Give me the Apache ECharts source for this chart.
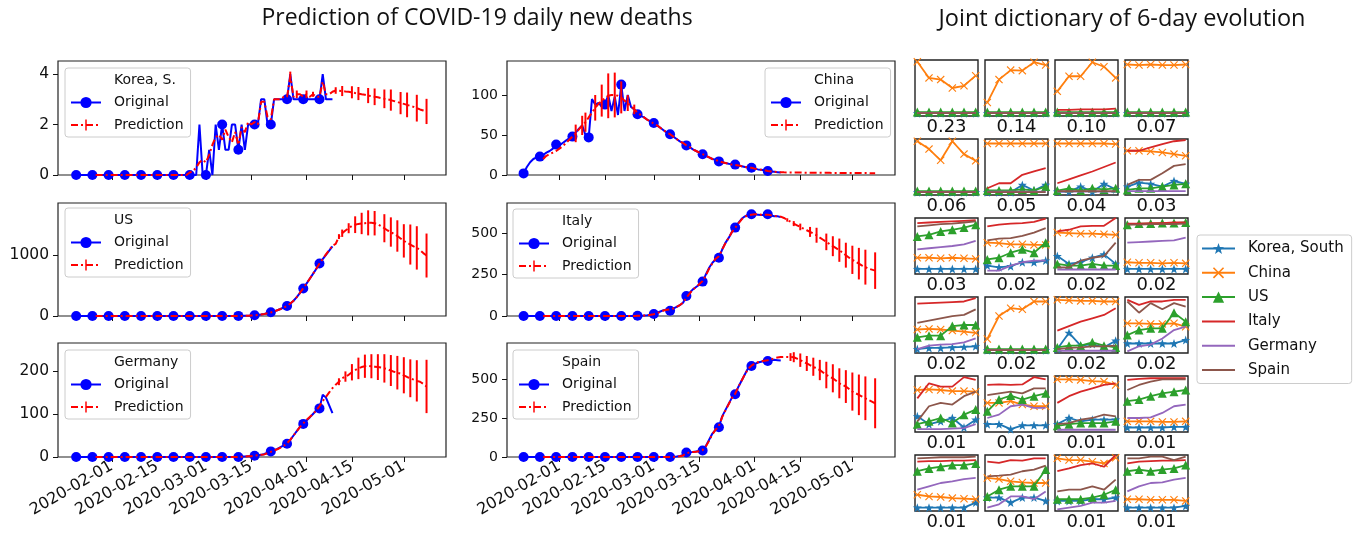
<!DOCTYPE html>
<html><head><meta charset="utf-8">
<script src="https://cdn.jsdelivr.net/npm/echarts@6.0.0/dist/echarts.min.js"></script>
<style>html,body{margin:0;padding:0;background:#fff}#c{width:1372px;height:533px}</style>
</head><body><div id="c"></div>
<script>
// ---------------- data ----------------
const tickDates = ['2020-02-01','2020-02-15','2020-03-01','2020-03-15','2020-04-01','2020-04-15','2020-05-01'];
const origStart = '2020-01-21';
const predStart = '2020-01-27';

const koreaTicks = [0, 2, 4];
const chinaTicks = [0, 50, 100];
const usTicks = [0, 1000];
const italyTicks = [0, 250, 500];
const germanyTicks = [0, 100, 200];
const spainTicks = [0, 250, 500];

const koreaOrig = [
0,0,0,0,0,0,0,0,0,0, 0,0,0,0,0,0,0,0,0,0, 0,0,0,0,0,0,0,0,0,0, 0,0,0,0,0,0,0,
0,2,0,0,1,0,2,1,2,1, 1,2,2,1,2,1,2,2,2,2, 3,3,2,2,3,3,3,3,3,4, 3,3,3,3,3,3,3,3,3,4, 3,3,3];
const koreaPred = [
0,0,0,0,0,0,0,0,0,0, 0,0,0,0,0,0,0,0,0,0, 0,0,0,0,0,0,0,0,0,
0.1,0.15,0.3,0.5,0.6,0.5,0.8,1.2,1.5,1.6, 1.4,1.8,1.5,1.3,1.7,1.2,1.9,1.7,2.1,2.0,
2.1,2.0,2.9,2.9,2.3,2.2,3.0,3.0,3.0,3.1, 3.1,3.9,3.1,3.2,3.2,3.1,3.2,3.1,3.2,3.1, 3.1,3.7,3.2,3.2,3.3,
3.35,3.34,3.33,3.31,3.3,3.28,3.25,3.23,3.2,3.18, 3.15,3.13,3.1,3.08,3.05,3.02,3.0,2.97,2.93,2.9,
2.85,2.82,2.78,2.74,2.7,2.65,2.6,2.56,2.52];
const koreaErr = [['03-27',0.2],['03-29',0.15],['04-01',0.15],['04-03',0.1],['04-10',0.13],['04-12',0.2],['04-15',0.24],['04-17',0.26],['04-20',0.3],['04-22',0.33],['04-25',0.37],['04-27',0.42],['04-30',0.44],['05-02',0.49],['05-05',0.53],['05-08',0.5]];

const chinaOrig = [
2,10,16,20,22,23,25,28,30,33, 38,37,40,43,46,48,53,58,62,50, 47,95,88,90,86,88,100,80,98,75,
113,80,100,85,82,76,74,72,69,67, 65,62,59,56,53,51,48,45,42,40, 37,35,32,30,28,26,24,22,20,19,
17,16,15,14,13.5,13,12,11,10,9.5, 9,8,7,6.5,6,5,4.5,4,3.5,3];
const chinaPred = [
20,24,26,28,30,33,36,40,44,48, 52,57,62,66,72,78,84,89,93,96, 99,100,100,99,97,93,90,86,82,78, 75,
72,69,67,64,62,59,56,53,51,48, 45,42,40,37,35,32,30,28,26,24, 22,20,19,17,16,15,14,13,12.5,12,
11,10,9.5,9,8,7,6.5,6,5,4.5, 4,3.5,3.5,
3.3,3.2,3.2,3.1,3.1,3.0,3.0,2.9,2.9,2.8, 2.8,2.8,2.7,2.7,2.7,2.6,2.6,2.6,2.5,2.5, 2.5,2.5,2.4,2.4,2.4,2.4,2.3,2.3,2.3];
const chinaErr = [['02-06',11],['02-08',12],['02-09',12],['02-12',16],['02-14',20],['02-16',28],['02-18',28],['02-20',20],['02-22',10],['02-24',6]];

const usOrig = [
0,0,0,0,0,0,0,0,0,0, 0,0,0,0,0,0,0,0,0,0, 0,0,0,0,0,0,0,0,0,0, 0,0,0,0,0,0,0,0,0,0, 0,0,0,0,0,0,0,0,0,0,
2,3,4,6,8,12,18,25,33,45, 60,75,95,115,140,165,200,250,310,380, 450,530,610,690,770,860,930,1000,1070,1140];
const usPred = [
0,0,0,0,0,0,0,0,0,0, 0,0,0,0,0,0,0,0,0,0, 0,0,0,0,0,0,0,0,0,0, 0,0,0,0,0,0,0,0,0,0, 0,0,0,0,
1,2,4,5,8,11,16,24,32,44, 58,74,94,115,138,165,205,250,310,380, 455,530,610,690,775,860,935,1010,1080,1150,
1180,1300,1355,1400,1437,1475,1495,1508,1515,1519, 1525,1525,1519,1500,1470,1437,1400,1375,1340,1310,
1270,1230,1200,1170,1140,1115,1080,1030,990];
const usErr = [['04-11',40],['04-12',60],['04-14',82],['04-16',137],['04-18',175],['04-20',205],['04-22',200],['04-25',230],['04-27',240],['04-29',257],['05-01',273],['05-03',328],['05-05',355],['05-08',360]];

const italyOrig = [
0,0,0,0,0,0,0,0,0,0, 0,0,0,0,0,0,0,0,0,0, 0,0,0,0,0,0,0,0,0,0, 0,0,0,0,0,
1,2,3,5,8,12,18,27,35,40, 32,45,55,65,80,120,140,160,175,190, 207,250,290,320,340,351,400,440,470,505,
532,560,585,600,610,612,612,610,608,608, 612,605,600,600,595];
const italyPred = [
0,0,0,0,0,0,0,0,0,0, 0,0,0,0,0,0,0,0,0,0, 0,0,0,0,0,0,0,0,0,
1,2,3,4,7,11,17,25,33,38, 40,45,55,66,80,110,135,158,175,192, 210,245,285,318,345,360,400,438,470,505,
530,558,582,598,606,610,612,612,610,610, 610,606,603,600,598,
590,578,567,556,546,536,526,516,506,496, 486,472,459,446,433,420,408,396,381,366,
351,338,326,315,303,294,285,279,273];
const italyErr = [['04-11',10],['04-13',15],['04-15',20],['04-18',30],['04-20',45],['04-23',50],['04-25',60],['04-27',70],['04-29',75],['05-01',85],['05-03',95],['05-05',105],['05-08',110]];

const germanyOrig = [
0,0,0,0,0,0,0,0,0,0, 0,0,0,0,0,0,0,0,0,0, 0,0,0,0,0,0,0,0,0,0, 0,0,0,0,0,0,0,0,0,0, 0,0,0,0,0,0,0,0,0,0,
0,1,1,2,2,3,4,5,7,10, 13,16,19,23,27,31,40,50,60,70, 77,85,92,100,108,113,145,138,120,102];
const germanyPred = [
0,0,0,0,0,0,0,0,0,0, 0,0,0,0,0,0,0,0,0,0, 0,0,0,0,0,0,0,0,0,0, 0,0,0,0,0,0,0,0,0,0, 0,0,0,0,
0,0.5,1,1.5,2,3,4,5,6,9, 12,15,18,22,26,32,40,50,60,70, 78,86,93,100,108,118,130,140,150,160,
168,175,183,187,191,197,202,206,209,211, 212,211,210,209,208,206,204,201,198,196,
194,190,186,183,180,177,175,170,164];
const germanyErr = [['04-11',8],['04-13',12],['04-15',19],['04-17',25],['04-19',27],['04-21',28],['04-23',30],['04-25',33],['04-27',36],['04-29',39],['05-01',42],['05-03',44],['05-05',48],['05-08',62]];

const spainOrig = [
0,0,0,0,0,0,0,0,0,0, 0,0,0,0,0,0,0,0,0,0, 0,0,0,0,0,0,0,0,0,0, 0,0,0,0,0,0,0,0,0,0, 0,0,0,0,0,0,
1,3,6,12,29,30,32,35,38,42, 70,110,150,175,191,260,300,340,380,402, 450,490,530,570,583,595,605,610,615,615,
620,622,620,618];
const spainPred = [
0,0,0,0,0,0,0,0,0,0, 0,0,0,0,0,0,0,0,0,0, 0,0,0,0,0,0,0,0,0,0, 0,0,0,0,0,0,0,0,0,0,
0.5,2,5,10,22,30,32,34,37,45, 68,105,145,175,200,255,298,338,378,405, 450,490,530,565,585,598,607,612,617,620,
625,632,637,640,
641,641,640,639,630,620,610,599,588,578, 567,557,541,525,515,504,488,472,462,451,
435,419,408,398,387,376,365,355,344];
const spainErr = [['04-12',25],['04-13',32],['04-15',43],['04-17',48],['04-19',58],['04-21',65],['04-23',85],['04-25',90],['04-27',96],['04-29',105],['05-01',122],['05-03',130],['05-05',140],['05-08',160]];

// Joint dictionary: 24 atoms (row-major, 6 rows x 4 cols), 6 days each, normalised height
const atomWeights = ['0.23','0.14','0.10','0.07','0.06','0.05','0.04','0.03','0.03','0.02','0.02','0.02',
                     '0.02','0.02','0.02','0.02','0.01','0.01','0.01','0.01','0.01','0.01','0.01','0.01'];
const atomCountries = ['Korea, South','China','US','Italy','Germany','Spain'];
const atomKorea = [
[0.05,0.05,0.05,0.05,0.05,0.05],[0.05,0.05,0.05,0.05,0.05,0.05],[0.05,0.05,0.05,0.05,0.05,0.05],[0.05,0.05,0.05,0.05,0.05,0.05],
[0.05,0.05,0.05,0.05,0.05,0.05],[0.05,0.05,0.05,0.18,0.08,0.18],[0.06,0.06,0.15,0.06,0.2,0.1],[0.15,0.22,0.2,0.15,0.25,0.2],
[0.09,0.09,0.09,0.09,0.09,0.09],[0.15,0.12,0.14,0.21,0.21,0.24],[0.32,0.18,0.21,0.29,0.35,0.18],[0.09,0.09,0.09,0.09,0.09,0.09],
[0.07,0.09,0.09,0.1,0.11,0.12],[0.05,0.05,0.05,0.05,0.05,0.05],[0.07,0.36,0.13,0.16,0.1,0.22],[0.17,0.17,0.17,0.17,0.17,0.23],
[0.28,0.14,0.19,0.25,0.08,0.22],[0.14,0.14,0.05,0.12,0.12,0.12],[0.14,0.25,0.19,0.22,0.22,0.22],[0.08,0.08,0.08,0.08,0.09,0.09],
[0.06,0.06,0.06,0.06,0.06,0.15],[0.24,0.24,0.15,0.24,0.24,0.18],[0.18,0.18,0.18,0.21,0.21,0.24],[0.06,0.06,0.06,0.06,0.06,0.09]];
const atomChina = [
[0.97,0.68,0.65,0.5,0.54,0.72],[0.24,0.65,0.82,0.81,0.96,0.91],[0.44,0.71,0.71,0.96,0.88,0.68],[0.92,0.91,0.92,0.91,0.91,0.92],
[0.96,0.82,0.62,0.96,0.73,0.61],[0.92,0.92,0.92,0.92,0.92,0.92],[0.92,0.92,0.92,0.92,0.92,0.91],[0.79,0.79,0.78,0.76,0.73,0.7],
[0.29,0.29,0.28,0.29,0.28,0.27],[0.56,0.55,0.53,0.53,0.52,0.52],[0.74,0.73,0.72,0.72,0.71,0.7],[0.21,0.2,0.2,0.19,0.2,0.19],
[0.42,0.43,0.42,0.4,0.38,0.36],[0.25,0.66,0.8,0.78,0.92,0.92],[0.95,0.94,0.93,0.93,0.92,0.92],[0.53,0.53,0.52,0.52,0.53,0.47],
[0.75,0.76,0.75,0.73,0.73,0.72],[0.52,0.52,0.55,0.49,0.46,0.46],[0.94,0.94,0.93,0.91,0.9,0.84],[0.19,0.19,0.19,0.18,0.18,0.19],
[0.29,0.26,0.25,0.23,0.22,0.21],[0.59,0.57,0.53,0.51,0.5,0.5],[0.94,0.91,0.91,0.88,0.85,0.95],[0.21,0.21,0.2,0.2,0.2,0.18]];
const atomUS = [
[0.07,0.07,0.07,0.07,0.07,0.07],[0.07,0.07,0.07,0.07,0.07,0.07],[0.07,0.07,0.07,0.07,0.07,0.07],[0.07,0.07,0.07,0.07,0.07,0.07],
[0.07,0.07,0.07,0.07,0.07,0.07],[0.08,0.08,0.08,0.1,0.08,0.15],[0.08,0.12,0.08,0.12,0.1,0.12],[0.09,0.12,0.12,0.15,0.18,0.2],
[0.67,0.7,0.76,0.79,0.83,0.88],[0.26,0.29,0.38,0.44,0.38,0.56],[0.18,0.15,0.15,0.18,0.15,0.15],[0.88,0.9,0.9,0.91,0.91,0.92],
[0.28,0.31,0.31,0.48,0.5,0.5],[0.07,0.07,0.07,0.07,0.07,0.07],[0.1,0.13,0.13,0.19,0.13,0.1],[0.32,0.41,0.44,0.44,0.72,0.56],
[0.14,0.19,0.25,0.16,0.31,0.4],[0.37,0.58,0.65,0.58,0.64,0.69],[0.11,0.14,0.16,0.16,0.16,0.19],[0.55,0.58,0.64,0.69,0.72,0.75],
[0.71,0.76,0.79,0.82,0.82,0.85],[0.26,0.38,0.44,0.44,0.44,0.74],[0.21,0.21,0.21,0.24,0.29,0.38],[0.71,0.74,0.71,0.74,0.76,0.82]];
const atomItaly = [
[0.05,0.05,0.05,0.05,0.05,0.05],[0.05,0.05,0.05,0.05,0.05,0.05],[0.11,0.11,0.12,0.12,0.12,0.13],[0.05,0.05,0.05,0.05,0.05,0.05],
[0.05,0.05,0.05,0.05,0.05,0.05],[0.12,0.21,0.21,0.36,0.42,0.48],[0.21,0.28,0.35,0.42,0.5,0.58],[0.79,0.79,0.85,0.91,0.96,0.98],
[0.91,0.92,0.93,0.94,0.95,0.96],[0.85,0.88,0.9,0.91,0.93,0.99],[0.76,0.79,0.85,0.86,0.86,1.0],[0.9,0.9,0.91,0.91,0.92,0.92],
[0.88,0.89,0.9,0.91,0.92,0.98],[0.05,0.05,0.05,0.05,0.05,0.05],[0.4,0.48,0.56,0.62,0.68,0.8],[0.95,0.86,0.92,0.92,0.95,0.95],
[0.6,0.87,0.81,0.81,0.98,0.93],[0.84,0.85,0.84,0.85,0.98,0.94],[0.52,0.64,0.72,0.78,0.84,0.87],[0.93,0.95,0.96,0.96,0.96,0.96],
[0.88,0.89,0.89,0.9,0.9,0.91],[0.88,0.86,0.91,0.9,0.94,0.94],[0.71,0.76,0.82,0.85,0.79,1.0],[0.85,0.88,0.89,0.9,0.9,0.91]];
const atomGermany = [
[0.05,0.05,0.05,0.05,0.05,0.05],[0.05,0.05,0.05,0.05,0.05,0.05],[0.05,0.05,0.05,0.05,0.05,0.05],[0.05,0.05,0.05,0.05,0.05,0.05],
[0.05,0.05,0.05,0.05,0.05,0.05],[0.06,0.06,0.06,0.06,0.06,0.06],[0.06,0.06,0.06,0.06,0.06,0.06],[0.07,0.07,0.07,0.07,0.07,0.07],
[0.44,0.46,0.48,0.5,0.53,0.59],[0.06,0.06,0.15,0.21,0.24,0.24],[0.08,0.08,0.08,0.08,0.08,0.08],[0.56,0.57,0.58,0.59,0.6,0.65],
[0.07,0.13,0.15,0.16,0.19,0.26],[0.05,0.05,0.05,0.05,0.05,0.05],[0.04,0.04,0.04,0.04,0.04,0.04],[0.03,0.12,0.15,0.26,0.41,0.47],
[0.05,0.05,0.05,0.06,0.07,0.14],[0.25,0.31,0.46,0.49,0.43,0.43],[0.04,0.04,0.04,0.04,0.04,0.04],[0.25,0.25,0.26,0.34,0.46,0.49],
[0.38,0.44,0.5,0.53,0.57,0.59],[0.06,0.12,0.26,0.26,0.21,0.35],[0.03,0.06,0.09,0.15,0.15,0.18],[0.35,0.44,0.5,0.51,0.56,0.59]];
const atomSpain = [
[0.05,0.05,0.05,0.05,0.05,0.05],[0.05,0.05,0.05,0.05,0.05,0.05],[0.05,0.05,0.05,0.05,0.05,0.05],[0.05,0.05,0.05,0.05,0.05,0.05],
[0.05,0.05,0.05,0.05,0.05,0.05],[0.05,0.05,0.05,0.05,0.05,0.05],[0.07,0.07,0.07,0.07,0.07,0.07],[0.18,0.27,0.27,0.39,0.52,0.55],
[0.85,0.87,0.89,0.9,0.92,0.94],[0.6,0.63,0.64,0.68,0.74,0.82],[0.12,0.12,0.24,0.29,0.32,0.56],[0.88,0.88,0.89,0.89,0.89,0.9],
[0.54,0.58,0.62,0.66,0.68,0.78],[0.05,0.05,0.05,0.05,0.05,0.05],[0.07,0.09,0.1,0.12,0.12,0.13],[0.92,0.72,0.89,0.78,0.89,0.83],
[0.19,0.46,0.52,0.49,0.64,0.72],[0.66,0.69,0.72,0.69,0.78,0.78],[0.14,0.16,0.22,0.25,0.31,0.28],[0.75,0.84,0.9,0.94,0.94,0.94],
[0.94,0.95,0.96,0.96,0.96,0.97],[0.62,0.63,0.65,0.71,0.74,0.81],[0.35,0.38,0.38,0.44,0.38,0.56],[0.94,0.94,0.97,0.97,0.91,0.97]];

// ---------------- helpers ----------------
const DAY = 86400000, T0 = Date.UTC(2020, 0, 1);
const dayOf = s => Math.round((Date.parse(s + 'T00:00:00Z') - T0) / DAY);
const fmtDay = d => new Date(T0 + Math.round(d) * DAY).toISOString().slice(0, 10);
const tickDays = tickDates.map(dayOf);
const origStartDay = dayOf(origStart);
const predStartDay = dayOf(predStart);

const FONT = 'DejaVu Sans';
const INK = '#111';
const STAR = 'path://M0,-10L2.35,-3.24L9.51,-3.09L3.8,1.24L5.88,8.09L0,4L-5.88,8.09L-3.8,1.24L-9.51,-3.09L-2.35,-3.24Z';
const XMARK = 'path://M1,0L5,4L9,0L10,1L6,5L10,9L9,10L5,6L1,10L0,9L4,5L0,1Z';
const ERRBAR = 'path://M0,10L20,10L0,10Z M8.7,0L11.3,0L11.3,20L8.7,20Z';

const mainPanels = [
  {title:'Korea, S.', orig:koreaOrig, pred:koreaPred, err:koreaErr, ticks:koreaTicks, yMax:4.52, grid:[58,61,388,114], xr:[14.4,134], legend:{left:65, top:68}, yFont:15.5, bottom:false},
  {title:'China', orig:chinaOrig, pred:chinaPred, err:chinaErr, ticks:chinaTicks, yMax:142.5, grid:[507,61,388,114], xr:[14.9,134.1], legend:{left:765, top:68}, yFont:14, bottom:false},
  {title:'US', orig:usOrig, pred:usPred, err:usErr, ticks:usTicks, yMax:1850, grid:[58,203,388,113], xr:[14.4,134], legend:{left:65, top:208}, yFont:15.5, bottom:false},
  {title:'Italy', orig:italyOrig, pred:italyPred, err:italyErr, ticks:italyTicks, yMax:680, grid:[507,203,388,113], xr:[14.9,134.1], legend:{left:513, top:209}, yFont:14, bottom:false},
  {title:'Germany', orig:germanyOrig, pred:germanyPred, err:germanyErr, ticks:germanyTicks, yMax:265, grid:[58,343,388,114], xr:[14.4,134], legend:{left:65, top:350}, yFont:15.5, bottom:true},
  {title:'Spain', orig:spainOrig, pred:spainPred, err:spainErr, ticks:spainTicks, yMax:730, grid:[507,343,388,114], xr:[14.9,134.1], legend:{left:513, top:350}, yFont:14, bottom:true}
];

const atomCols = [915, 985, 1055, 1125];
const atomRows = [60, 139, 218, 297, 376, 455];
const atomSets = [atomKorea, atomChina, atomUS, atomItaly, atomGermany, atomSpain];
const atomColors = ['#1f77b4', '#ff7f0e', '#2ca02c', '#d62728', '#9467bd', '#8c564b'];
const atomSymbols = [STAR, XMARK, 'triangle', 'none', 'none', 'none'];
const atomSymbolSize = [9, 8, 9, 0, 0, 0];

// ---------------- build option ----------------
const grids = [], xAxes = [], yAxes = [], series = [], legends = [];

// small multiples first (so the right-hand legend takes their icons)
atomWeights.forEach((w, k) => {
  const r = Math.floor(k / 4), c = k % 4;
  const g = grids.length;
  grids.push({left: atomCols[c], top: atomRows[r], width: 63, height: 56, show: true,
              borderColor: '#222', borderWidth: 1.4, backgroundColor: '#fff'});
  xAxes.push({type: 'value', gridIndex: g, min: -0.2, max: 5.2,
              axisLine: {show: false}, axisTick: {show: false}, axisLabel: {show: false}, splitLine: {show: false},
              name: w, nameLocation: 'middle', nameGap: 2,
              nameTextStyle: {fontSize: 18, fontFamily: FONT, color: INK, verticalAlign: 'top'}});
  yAxes.push({type: 'value', gridIndex: g, min: 0, max: 1,
              axisLine: {show: false}, axisTick: {show: false}, axisLabel: {show: false}, splitLine: {show: false}});
  atomSets.forEach((set, ci) => {
    series.push({type: 'line', name: atomCountries[ci], xAxisIndex: g, yAxisIndex: g,
      data: set[k].map((v, i) => [i, v]),
      symbol: atomSymbols[ci], symbolSize: atomSymbolSize[ci], showSymbol: atomSymbols[ci] !== 'none',
      color: atomColors[ci], lineStyle: {width: 1.8, color: atomColors[ci]}, itemStyle: {color: atomColors[ci]},
      silent: true, z: 2 + ci * 0.01});
  });
});

mainPanels.forEach((p) => {
  const g = grids.length;
  grids.push({left: p.grid[0], top: p.grid[1], width: p.grid[2], height: p.grid[3], show: true,
              borderColor: '#222', borderWidth: 1.2, backgroundColor: '#fff'});
  xAxes.push({type: 'value', gridIndex: g, min: p.xr[0], max: p.xr[1],
    axisLine: {show: false}, splitLine: {show: false},
    axisTick: {show: true, customValues: tickDays, length: 5, lineStyle: {color: INK, width: 1}},
    axisLabel: {show: p.bottom, customValues: tickDays, formatter: v => fmtDay(v), rotate: 30,
                fontSize: 16, fontFamily: FONT, color: INK, margin: 8}});
  yAxes.push({type: 'value', gridIndex: g, min: 0, max: p.yMax,
    axisLine: {show: false}, splitLine: {show: false},
    axisTick: {show: true, customValues: p.ticks, length: 5, lineStyle: {color: INK, width: 1}},
    axisLabel: {customValues: p.ticks, formatter: v => String(v), fontSize: p.yFont, fontFamily: FONT, color: INK, margin: 9}});

  if (p.title === 'Korea, S.') {
    series.push({type: 'line', name: p.title, xAxisIndex: g, yAxisIndex: g, data: []});
  }
  series.push({type: 'line', name: 'Original', xAxisIndex: g, yAxisIndex: g,
    data: p.orig.map((v, i) => [origStartDay + i, v]),
    symbol: 'circle', symbolSize: (val, params) => (params.dataIndex % 5 === 0 ? 10 : 0),
    color: '#0000ff', lineStyle: {width: 2, color: '#0000ff'}, itemStyle: {color: '#0000ff'}, silent: true, z: 3});
  series.push({type: 'line', name: 'Prediction', xAxisIndex: g, yAxisIndex: g,
    data: p.pred.map((v, i) => [predStartDay + i, v]),
    symbol: ERRBAR, showSymbol: false,
    color: '#ff0000', lineStyle: {width: 2, color: '#ff0000', type: [7, 3, 2, 3]}, itemStyle: {color: '#ff0000'}, silent: true, z: 4});
  series.push({type: 'custom', name: 'errbar-' + p.title, xAxisIndex: g, yAxisIndex: g,
    data: p.err.map(([md, e]) => { const d = dayOf('2020-' + md); return [d, p.pred[d - predStartDay], e]; }),
    encode: {x: 0, y: 1}, silent: true, z: 4,
    renderItem: (params, api) => {
      const x = api.value(0), y = api.value(1), e = api.value(2);
      const a = api.coord([x, y - e]), b = api.coord([x, y + e]);
      return {type: 'line', shape: {x1: a[0], y1: a[1], x2: b[0], y2: b[1]}, style: {stroke: '#ff0000', lineWidth: 2}};
    }});

  legends.push({orient: 'vertical', left: p.legend.left, top: p.legend.top,
    data: [{name: p.title, icon: 'none'}, 'Original', 'Prediction'],
    selectedMode: false, itemWidth: 30, itemHeight: 14, itemGap: 8.5, padding: [5, 7, 5, 5],
    borderColor: '#cccccc', borderWidth: 1, borderRadius: 3, backgroundColor: 'rgba(255,255,255,0.8)',
    textStyle: {fontSize: 14, fontFamily: FONT, color: INK, padding: [0, 0, 0, 8]}, z: 10});
});

legends.push({orient: 'vertical', left: 1197, top: 235,
  data: atomCountries.map((n, i) => atomSymbols[i] === 'none' ? {name: n, itemStyle: {opacity: 0}} : {name: n}),
  selectedMode: false, itemWidth: 33, itemHeight: 14, itemGap: 9.3, padding: [6, 8, 6, 4],
  borderColor: '#cccccc', borderWidth: 1, borderRadius: 3, backgroundColor: 'rgba(255,255,255,0.8)',
  textStyle: {fontSize: 15, fontFamily: FONT, color: INK, padding: [0, 0, 0, 8]}});

const option = {
  animation: false,
  backgroundColor: '#fff',
  title: [
    {text: 'Prediction of COVID-19 daily new deaths', left: 472, top: 2, textAlign: 'center',
     textStyle: {fontSize: 23, fontWeight: 'normal', fontFamily: 'Open Sans', color: INK}},
    {text: 'Joint dictionary of 6-day evolution', left: 1117, top: 2, textAlign: 'center',
     textStyle: {fontSize: 23.5, fontWeight: 'normal', fontFamily: 'Open Sans', color: INK}}
  ],
  grid: grids, xAxis: xAxes, yAxis: yAxes, series: series, legend: legends
};

const chart = echarts.init(document.getElementById('c'), null, {renderer: 'canvas'});
chart.setOption(option);
</script></body></html>
